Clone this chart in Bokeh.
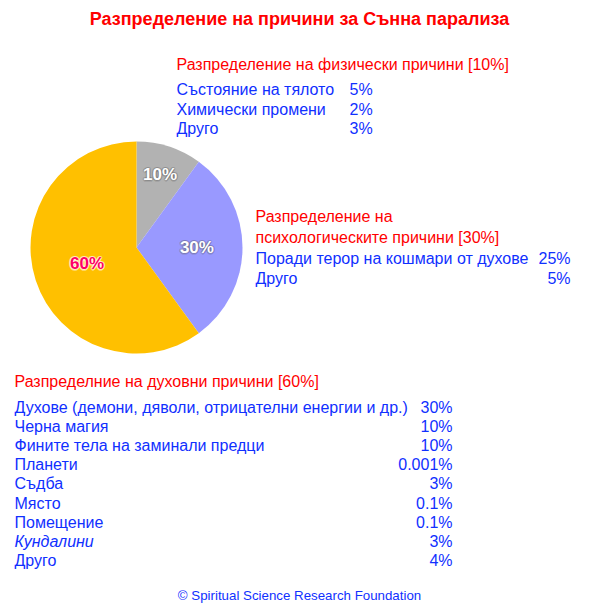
import math
from bokeh.plotting import figure
from bokeh.models import Range1d, ColumnDataSource
from bokeh.core.properties import value
from bokeh.embed import file_html
from bokeh.resources import INLINE

# ---------------- data ----------------
title_text = "Разпределение на причини за Сънна парализа"

main_labels = ["Физически", "Психологически", "Духовни"]
main_values = [10, 30, 60]
main_colors = ["#B2B2B2", "#9999FF", "#FFC000"]
main_label_colors = ["#FFFFFF", "#FFFFFF", "#FF0066"]

physical_title = "Разпределение на физически причини [10%]"
physical_items = ["Състояние на тялото", "Химически промени", "Друго"]
physical_values = ["5%", "2%", "3%"]

psych_title = ["Разпределение на", "психологическите причини [30%]"]
psych_items = ["Поради терор на кошмари от духове", "Друго"]
psych_values = ["25%", "5%"]

spiritual_title = "Разпределние на духовни причини [60%]"
spiritual_items = ["Духове (демони, дяволи, отрицателни енергии и др.)",
                   "Черна магия", "Фините тела на заминали предци", "Планети",
                   "Съдба", "Място", "Помещение", "Кундалини", "Друго"]
spiritual_values = ["30%", "10%", "10%", "0.001%", "3%", "0.1%", "0.1%", "3%", "4%"]
spiritual_italic = [False, False, False, False, False, False, False, True, False]

footer_text = "© Spiritual Science Research Foundation"

# ---------------- layout ----------------
FONT = value("Liberation Sans")
RED = "#FF0000"
BLUE = "#1030FF"

W, H = 600, 605
p = figure(width=W, height=H, output_backend="svg", toolbar_location=None,
           x_range=Range1d(0, W), y_range=Range1d(-H, 0),
           min_border=0, outline_line_color=None, background_fill_color="white",
           border_fill_color="white")
p.axis.visible = False
p.grid.visible = False


def Y(v):
    return -v


def txt(x, y, s, size, color, align="left", style="normal"):
    p.text(x=[x], y=[Y(y)], text=[s], text_font=FONT, text_font_size=size,
           text_color=color, text_align=align, text_baseline="middle",
           text_font_style=style)


# title
txt(299, 18, title_text, "18px", RED, align="center", style="bold")

# pie
cx, cy, R = 136, 247, 106
total = sum(main_values)
starts, ends, lx, ly = [], [], [], []
label_r = [0.72, 0.57, 0.49]
cum = 0
for i, v in enumerate(main_values):
    a0 = math.pi / 2 - 2 * math.pi * cum / total
    cum += v
    a1 = math.pi / 2 - 2 * math.pi * cum / total
    starts.append(a0)
    ends.append(a1)
    mid = (a0 + a1) / 2
    lx.append(cx + label_r[i] * R * math.cos(mid))
    ly.append(Y(cy) + label_r[i] * R * math.sin(mid))

src = ColumnDataSource(dict(start=starts, end=ends, color=main_colors,
                            lx=lx, ly=ly,
                            lab=[f"{v}%" for v in main_values],
                            lcol=main_label_colors))
p.wedge(x=cx, y=Y(cy), radius=R, start_angle="start", end_angle="end",
        direction="clock", fill_color="color", line_color=None, source=src)

# label glows / shadows
glow_cols = ["#555555", "#555555", "#FFFFFF"]
glow_alpha = [0.18, 0.18, 0.4]
offs = [(-1.5, 0), (1.5, 0), (0, 1.5), (0, -1.5), (1, 1), (-1, -1), (1, -1), (-1, 1)]
for i in range(len(main_values)):
    for dx, dy in offs:
        p.text(x=[lx[i] + dx], y=[ly[i] + dy], text=[f"{main_values[i]}%"],
               text_font=FONT, text_font_size="17px", text_font_style="bold",
               text_color=glow_cols[i], text_alpha=glow_alpha[i],
               text_align="center", text_baseline="middle")
p.text(x="lx", y="ly", text="lab", text_color="lcol", source=src,
       text_font=FONT, text_font_size="17px", text_font_style="bold",
       text_align="center", text_baseline="middle")

# physical block
txt(176, 64, physical_title, "16px", RED)
for i, (it, v) in enumerate(zip(physical_items, physical_values)):
    y = 89 + i * 19.5
    txt(176, y, it, "16px", BLUE)
    txt(349, y, v, "16px", BLUE)

# psych block
for i, s in enumerate(psych_title):
    txt(255, 216 + i * 20.5, s, "16px", RED)
for i, (it, v) in enumerate(zip(psych_items, psych_values)):
    y = 258 + i * 19.5
    txt(255, y, it, "16px", BLUE)
    txt(570, y, v, "16px", BLUE, align="right")

# spiritual block
txt(14, 381, spiritual_title, "16px", RED)
for i, (it, v) in enumerate(zip(spiritual_items, spiritual_values)):
    y = 407 + i * 19.1
    txt(14, y, it, "16px", BLUE, style="italic" if spiritual_italic[i] else "normal")
    txt(452, y, v, "16px", BLUE, align="right")

# footer
txt(299, 595, footer_text, "13.3px", BLUE, align="center")

open("out.html", "w").write(file_html(p, INLINE))
